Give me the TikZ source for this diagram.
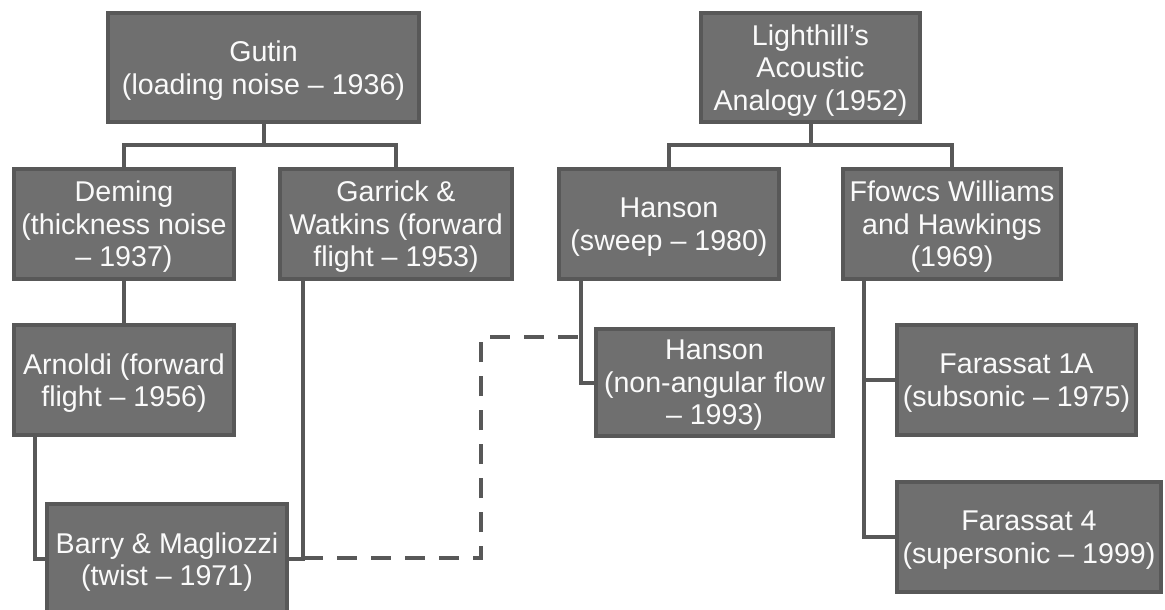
\documentclass[tikz,border=0pt]{standalone}
\usepackage{fontspec}
\setmainfont{Liberation Sans}
\definecolor{boxfill}{RGB}{111,111,111}
\definecolor{boxline}{RGB}{88,88,88}
\definecolor{txt}{RGB}{250,250,250}
\tikzset{
  box/.style={draw=boxline, fill=boxfill, line width=4pt, inner sep=0pt},
  lbl/.style={text=txt, align=center, inner sep=0pt, font=\fontsize{28.6}{32.5}\selectfont},
  conn/.style={draw=boxline, line width=4pt},
  dconn/.style={draw=boxline, line width=4pt, dash pattern=on 20pt off 14pt}
}
\newcommand\mybox[6]{%
  \node[box, minimum width=#4pt, minimum height=#5pt] (#1) at (#2,#3) {};
  \node[lbl] (#1-t) at ([yshift=-3pt]#1.center) {#6};
}
\begin{document}
\begin{tikzpicture}[x=1pt,y=-1pt]
\useasboundingbox (0,0) rectangle (1165,610);
% boxes
\mybox{gutin}{263.5}{67.5}{311}{109}{Gutin\\(loading noise -- 1936)}
\mybox{light}{810.5}{67.5}{219}{109}{Lighthill’s\\Acoustic\\Analogy (1952)}
\mybox{deming}{124}{224}{220}{110}{Deming\\(thickness noise\\-- 1937)}
\mybox{garrick}{396}{224}{232}{110}{Garrick \&\\Watkins (forward\\flight -- 1953)}
\mybox{hanson}{669}{224}{220}{110}{Hanson\\(sweep -- 1980)}
\mybox{ffowcs}{952}{224}{218}{110}{Ffowcs Williams\\and Hawkings\\(1969)}
\mybox{arnoldi}{124}{380}{220}{110}{Arnoldi (forward\\flight -- 1956)}
\mybox{barry}{167}{559}{240}{110}{Barry \& Magliozzi\\(twist -- 1971)}
\mybox{hanson93}{714.5}{382.5}{237}{107}{Hanson\\(non-angular flow\\-- 1993)}
\mybox{far1a}{1016.5}{380}{239}{110}{Farassat 1A\\(subsonic -- 1975)}
\mybox{far4}{1029}{537}{264}{110}{Farassat 4\\(supersonic -- 1999)}
% tree connectors
\coordinate (gj) at (263.5,145);
\coordinate (lj) at (810.5,145);
\draw[conn] (gutin.south) -- (gj);
\draw[conn] (gj) -| (deming.north);
\draw[conn] (gj) -| (garrick.north);
\draw[conn] (light.south) -- (lj);
\draw[conn] (lj) -| (hanson.north);
\draw[conn] (lj) -| (ffowcs.north);
\draw[conn] (deming.south) -- (arnoldi.north);
\coordinate (a1) at (35,436);
\coordinate (g1) at (303,280);
\coordinate (h1) at (581,280);
\coordinate (f1) at (864,280);
\draw[conn] (a1) |- (barry.west);
\draw[conn] (g1) |- (barry.east);
\draw[conn] (h1) |- (hanson93.west);
\draw[conn] (f1) |- (far1a.west);
\draw[conn] (f1) |- (far4.west);
% dashed link
\coordinate (d0) at (303,558);
\coordinate (d1) at (481,558);
\coordinate (d2) at (481,337);
\coordinate (d3) at (581,337);
\draw[dconn] (d0) -- (d1) -- (d2) -- (d3);
\end{tikzpicture}
\end{document}
